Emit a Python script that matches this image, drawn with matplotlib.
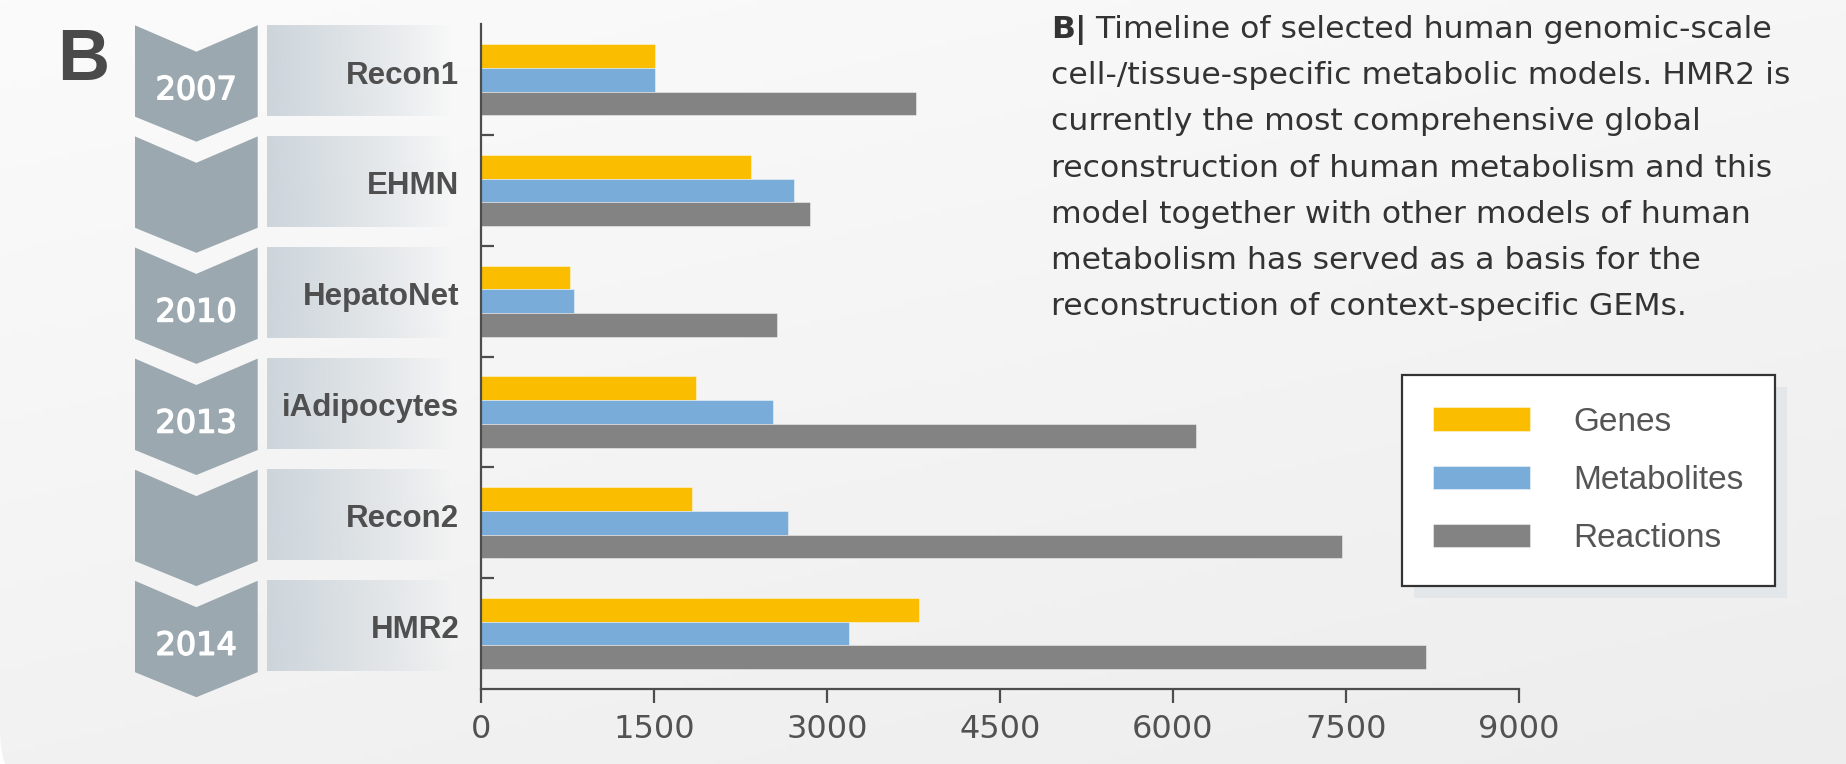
import matplotlib.pyplot as plt
import matplotlib.patheffects as pe
import numpy as np
from matplotlib.patches import Polygon, Rectangle, FancyBboxPatch
from matplotlib.colors import to_rgb

plt.rcParams['font.family'] = ['Liberation Sans', 'DejaVu Sans']

# model timeline data
models = ['Recon1', 'EHMN', 'HepatoNet', 'iAdipocytes', 'Recon2', 'HMR2']
years = ['2007', '', '2010', '2013', '', '2014']
genes = [1510, 2340, 775, 1860, 1830, 3800]
metabolites = [1510, 2710, 810, 2530, 2660, 3190]
reactions = [3770, 2850, 2565, 6200, 7465, 8190]
series = ['Genes', 'Metabolites', 'Reactions']
colors = ['#fbbd00', '#79acd9', '#838383']
xticks = [0, 1500, 3000, 4500, 6000, 7500, 9000]

caption = [
    'cell-/tissue-specific metabolic models. HMR2 is',
    'currently the most comprehensive global',
    'reconstruction of human metabolism and this',
    'model together with other models of human',
    'metabolism has served as a basis for the',
    'reconstruction of context-specific GEMs.',
]
caption_first = 'Timeline of selected human genomic-scale'

W, H = 1846, 764
fig = plt.figure(figsize=(W / 100, H / 100), dpi=100)
fig.patch.set_facecolor('white')

# background layer in pixel units
bg = fig.add_axes([0, 0, 1, 1])
bg.axis('off')

gx, gy = np.meshgrid(np.linspace(0, 1, 300), np.linspace(0, 1, 150))
t = np.clip(0.65 * gy + 0.35 * gx, 0, 1)
c0 = np.array(to_rgb('#fbfbfb'))
c1 = np.array(to_rgb('#ededed'))
panel_img = c0 + (c1 - c0) * t[..., None]
im = bg.imshow(panel_img, extent=(0, W, H, 0), aspect='auto', zorder=0)
panel = FancyBboxPatch((0, -200), W + 200, 806 + 200,
                       boxstyle='round,pad=0,rounding_size=76',
                       transform=bg.transData, fc='none', ec='none')
bg.add_patch(panel)
im.set_clip_path(panel)

# big panel letter
bg.text(57, 80, 'B', fontsize=52, fontweight='bold', color='#4a4a4a',
        va='baseline', ha='left')

# chevrons and label strips
cx0, cx1 = 135, 257.7
cm = (cx0 + cx1) / 2
top0, step = 24.3, 110.8
box_rgb = to_rgb('#cdd5db')
grad = np.zeros((1, 256, 4))
grad[..., :3] = box_rgb
s = np.linspace(0, 1, 256)
grad[0, :, 3] = (1 - s) ** 0.85
for i in range(len(models)):
    y0 = 25.3 + i * 111.1
    pts = [(cx0, y0), (cm, y0 + 26.4), (cx1, y0), (cx1, y0 + 91.4),
           (cm, y0 + 116.4), (cx0, y0 + 91.4)]
    bg.add_patch(Polygon(pts, closed=True, fc='#9ba8b0', ec='none', zorder=2))
    if years[i]:
        bg.text(cm, y0 + 74, years[i], ha='center', va='baseline',
                fontsize=23, color='white', zorder=3,
                family=['DejaVu Sans'],
                path_effects=[pe.withStroke(linewidth=1.0, foreground='white')])
    bg.imshow(grad, extent=(266.7, 450, y0 + 90.4, y0), aspect='auto', zorder=2)
    yc = top0 + step * (i + 0.5)
    bg.text(459.3, yc + 4, models[i], ha='right', va='baseline', fontsize=22.5,
            fontweight='bold', color='#4f4f4f', zorder=3)

bg.set_xlim(0, W)
bg.set_ylim(H, 0)

# grouped horizontal bars
ax = fig.add_axes([481 / W, 1 - 689 / H, (1519 - 481) / W, (689 - 24.3) / H])
ax.set_facecolor('none')
y = np.arange(len(models))
h = 0.214
values = [genes, metabolites, reactions]
for k in range(3):
    ax.barh(y + (k - 1) * h, values[k], height=h, color=colors[k],
            edgecolor=(1, 1, 1, 0.5), linewidth=0.6, label=series[k])
ax.set_xlim(0, 9000)
ax.set_ylim(len(models) - 0.5, -0.5)
ax.set_xticks(xticks)
ax.set_xticklabels([str(v) for v in xticks], family=['DejaVu Sans'])
ax.set_yticks(np.arange(0.5, len(models) - 0.5, 1))
ax.set_yticklabels([])
for side in ['top', 'right']:
    ax.spines[side].set_visible(False)
for side in ['left', 'bottom']:
    ax.spines[side].set_color('#4d4d4d')
    ax.spines[side].set_linewidth(1.6)
ax.tick_params(axis='y', direction='in', length=9.5, width=1.6, color='#4d4d4d')
ax.tick_params(axis='x', direction='out', length=10, width=1.6, color='#4d4d4d',
               labelsize=23, labelcolor='#525252', pad=8)

leg = ax.legend(loc='upper left', bbox_to_anchor=(1401.7 / W, 1 - 375 / H),
                bbox_transform=fig.transFigure, frameon=True, fancybox=False,
                edgecolor='#333333', facecolor='white', framealpha=1,
                fontsize=24, handlelength=2.9, handleheight=0.71,
                handletextpad=1.3, labelspacing=0.82, borderpad=0.95,
                borderaxespad=0, labelcolor='#555555')
leg.get_frame().set_linewidth(1.6)

# caption paragraph, sized so the second line spans about 738 px
cap_kw = dict(color='#333333', va='baseline', ha='left',
              family=['DejaVu Sans'])
probe = bg.text(0, -100, caption[0], fontsize=20, **cap_kw)
fig.canvas.draw()
cap_size = 20 * 738 / probe.get_window_extent().width
probe.remove()

base0, lstep = 37.7, 46.3
tb = bg.text(1051, base0, 'B|', fontweight='bold', fontsize=cap_size, **cap_kw)
fig.canvas.draw()
ext = tb.get_window_extent()
bg.text(ext.x1, base0, ' ' + caption_first, fontsize=cap_size, **cap_kw)
for j, line in enumerate(caption):
    bg.text(1051, base0 + lstep * (j + 1), line, fontsize=cap_size, **cap_kw)

# legend drop shadow
lb = leg.get_window_extent()
bg.add_patch(Rectangle((lb.x0 + 12, H - lb.y1 + 12), lb.width, lb.height,
                       fc='#e3e7ea', ec='none', zorder=1))

fig.savefig('out.png', dpi=100)
